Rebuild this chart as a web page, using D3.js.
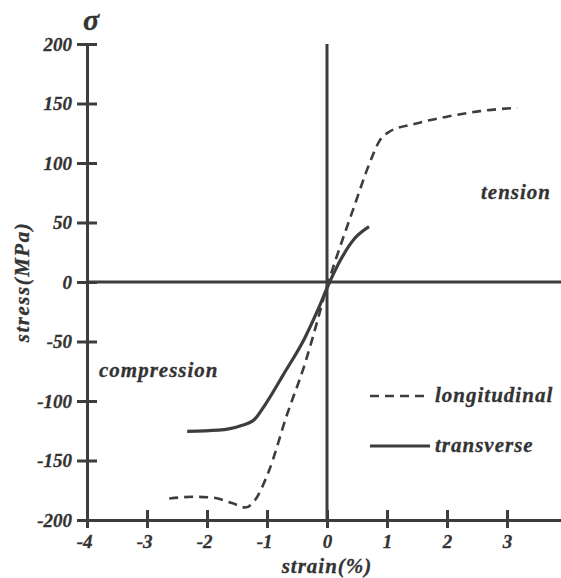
<!DOCTYPE html>
<html>
<head>
<meta charset="utf-8">
<script src="https://cdn.jsdelivr.net/npm/d3@7.9.0/dist/d3.min.js"></script>
<style>
  body { margin: 0; background: #fff; }
</style>
</head>
<body>
<div id="vis"></div>
<script>
const width = 561, height = 578;

// strain (%) / stress (MPa)
const longStrain = [-2.63, -2.22, -1.93, -1.57, -1.36, -1.21, -0.97, -0.67, -0.37, -0.14, -0.02, 0.16, 0.46, 0.70, 0.88, 1.03, 1.47, 2.01, 2.55, 3.17];
const longStress = [-182, -180.5, -181, -186, -189.5, -184, -159, -112, -69, -29, -7, 21, 64.5, 98.6, 119, 126, 133, 139, 143.6, 146.4];
const transStrain = [-2.33, -1.81, -1.45, -1.21, -1.03, -0.73, -0.37, -0.14, 0.01, 0.22, 0.46, 0.70];
const transStress = [-125.5, -124.5, -121, -115.6, -103, -78, -47, -22, -4, 18, 36.5, 46.5];

const xTicks = [-4, -3, -2, -1, 0, 1, 2, 3, 4];
const yTicks = [200, 150, 100, 50, 0, -50, -100, -150, -200];

const ink = "#3d3d3d";
const serif = "'Liberation Serif', 'Times New Roman', serif";

const x = d3.scaleLinear().domain([-4, 4]).range([87, 567]);
const y = d3.scaleLinear().domain([-200, 200]).range([520, 44]);

const svg = d3.select("#vis").append("svg")
    .attr("width", width)
    .attr("height", height);

// left axis
const gy = svg.append("g")
    .attr("transform", `translate(${x(-4)},0)`)
    .call(d3.axisLeft(y).tickValues(yTicks).tickSize(10).tickPadding(5).tickSizeOuter(0).tickFormat(d => String(d)));
gy.select(".domain").attr("stroke", ink).attr("stroke-width", 3);
gy.selectAll(".tick line").attr("x1", 10).attr("stroke", ink).attr("stroke-width", 3);
gy.selectAll(".tick text").attr("dy", "0.33em");

// bottom axis
const gx = svg.append("g")
    .attr("transform", `translate(0,${y(-200)})`)
    .call(d3.axisBottom(x).tickValues(xTicks).tickSize(8).tickPadding(7).tickSizeOuter(0).tickFormat(d => String(d)));
gx.select(".domain").attr("stroke", ink).attr("stroke-width", 3);
gx.selectAll(".tick line").attr("y1", -10).attr("stroke", ink).attr("stroke-width", 3);
gx.selectAll(".tick text").attr("dx", d => d < 0 ? "-0.15em" : 0);

svg.selectAll(".tick text")
    .attr("fill", "#333")
    .attr("stroke", "#333")
    .attr("stroke-width", 0.3)
    .style("font-family", serif)
    .style("font-size", "19px")
    .style("font-weight", "bold")
    .style("font-style", "italic");

// centre cross lines
svg.append("line")
    .attr("x1", x(0)).attr("x2", x(0))
    .attr("y1", y(200)).attr("y2", y(-200))
    .attr("stroke", ink).attr("stroke-width", 3);
svg.append("line")
    .attr("x1", x(-4)).attr("x2", width)
    .attr("y1", y(0)).attr("y2", y(0))
    .attr("stroke", ink).attr("stroke-width", 3);

const line = d3.line()
    .x(d => x(d[0]))
    .y(d => y(d[1]))
    .curve(d3.curveMonotoneX);

svg.append("path")
    .datum(longStrain.map((s, i) => [s, longStress[i]]))
    .attr("d", line)
    .attr("fill", "none")
    .attr("stroke", ink)
    .attr("stroke-width", 2.6)
    .attr("stroke-dasharray", "9,6");

svg.append("path")
    .datum(transStrain.map((s, i) => [s, transStress[i]]))
    .attr("d", line)
    .attr("fill", "none")
    .attr("stroke", ink)
    .attr("stroke-width", 3.2);

function label(px, py, txt, size, spacing) {
  return svg.append("text")
      .attr("x", px).attr("y", py)
      .attr("fill", "#333")
      .attr("stroke", "#333")
      .attr("stroke-width", 0.3)
      .attr("letter-spacing", spacing)
      .style("font-family", serif)
      .style("font-size", size + "px")
      .style("font-weight", "bold")
      .style("font-style", "italic")
      .text(txt);
}

label(91, 30, "σ", 30, 0).attr("text-anchor", "middle");
label(0, 0, "stress(MPa)", 21, 1.5)
    .attr("transform", `translate(29,${y(0)}) rotate(-90)`)
    .attr("text-anchor", "middle");
label(x(0), 573, "strain(%)", 21, 1).attr("text-anchor", "middle");
label(481, 199, "tension", 21, 1);
label(99, 377, "compression", 21, 1);

// legend
const legend = [
  { name: "longitudinal", dash: "9,6", w: 2.6, y: 396 },
  { name: "transverse", dash: null, w: 3.2, y: 446 }
];
legend.forEach(l => {
  svg.append("line")
      .attr("x1", 370).attr("x2", 430)
      .attr("y1", l.y).attr("y2", l.y)
      .attr("stroke", ink)
      .attr("stroke-width", l.w)
      .attr("stroke-dasharray", l.dash);
  label(435, l.y + 6, l.name, 21, 1);
});
</script>
</body>
</html>
